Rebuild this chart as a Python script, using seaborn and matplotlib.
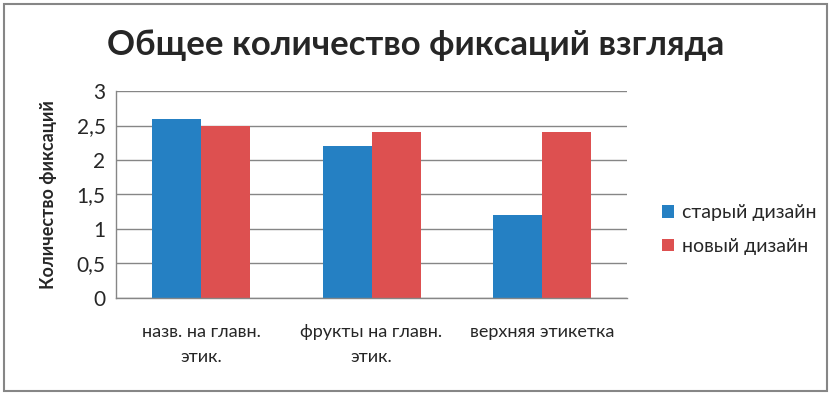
import pandas as pd
import matplotlib.pyplot as plt
import seaborn as sns

# Data
categories = ["назв. на главн.\nэтик.", "фрукты на главн.\nэтик.", "верхняя этикетка"]
old_design = [2.6, 2.2, 1.2]
new_design = [2.5, 2.4, 2.4]
series_names = ["старый дизайн", "новый дизайн"]
yticks = [0, 0.5, 1, 1.5, 2, 2.5, 3]

df = pd.DataFrame({
    "category": categories * 2,
    "value": old_design + new_design,
    "design": [series_names[0]] * 3 + [series_names[1]] * 3,
})

sns.set_theme(style="white")
plt.rcParams["font.family"] = ["Lato", "DejaVu Sans"]

fig = plt.figure(figsize=(8.31, 3.95), dpi=100)
ax = fig.add_axes([0.1396, 0.2456, 0.615, 0.524])

sns.barplot(
    data=df, x="category", y="value", hue="design",
    palette=["#2580C3", "#DD5050"], width=0.575, saturation=1,
    linewidth=0, ax=ax, legend=True,
)

ax.set_ylim(0, 3)
ax.set_yticks(yticks)
ax.set_yticklabels([str(t).replace(".", ",").replace(",0", "") for t in yticks], fontsize=15)
ax.tick_params(axis="y", length=4.5, color="#868686", pad=3)
ax.tick_params(axis="x", length=0, pad=19)
for lbl in ax.get_xticklabels():
    lbl.set_fontsize(13)
    lbl.set_linespacing(1.7)
ax.yaxis.grid(True, color="#868686", linewidth=1)
ax.set_axisbelow(True)
for side in ["top", "right"]:
    ax.spines[side].set_visible(False)
for side in ["left", "bottom"]:
    ax.spines[side].set_color("#868686")
    ax.spines[side].set_linewidth(1)

ax.set_xlabel("")
ax.set_ylabel("Количество фиксаций", fontsize=13, fontweight="bold", labelpad=14)

fig.text(0.5, 0.885, "Общее количество фиксаций взгляда", ha="center", va="center",
         fontsize=25, fontweight="bold")

ax.legend(loc="center left", bbox_to_anchor=(1.035, 0.33), frameon=False, fontsize=14,
          handlelength=0.6, handleheight=0.6, handletextpad=0.4, labelspacing=0.85)

# outer frame
fig.patches.append(plt.Rectangle((0.005, 0.01), 0.99, 0.98, transform=fig.transFigure,
                                 fill=False, edgecolor="#868686", linewidth=1.5))

fig.savefig("out.png", dpi=100)
